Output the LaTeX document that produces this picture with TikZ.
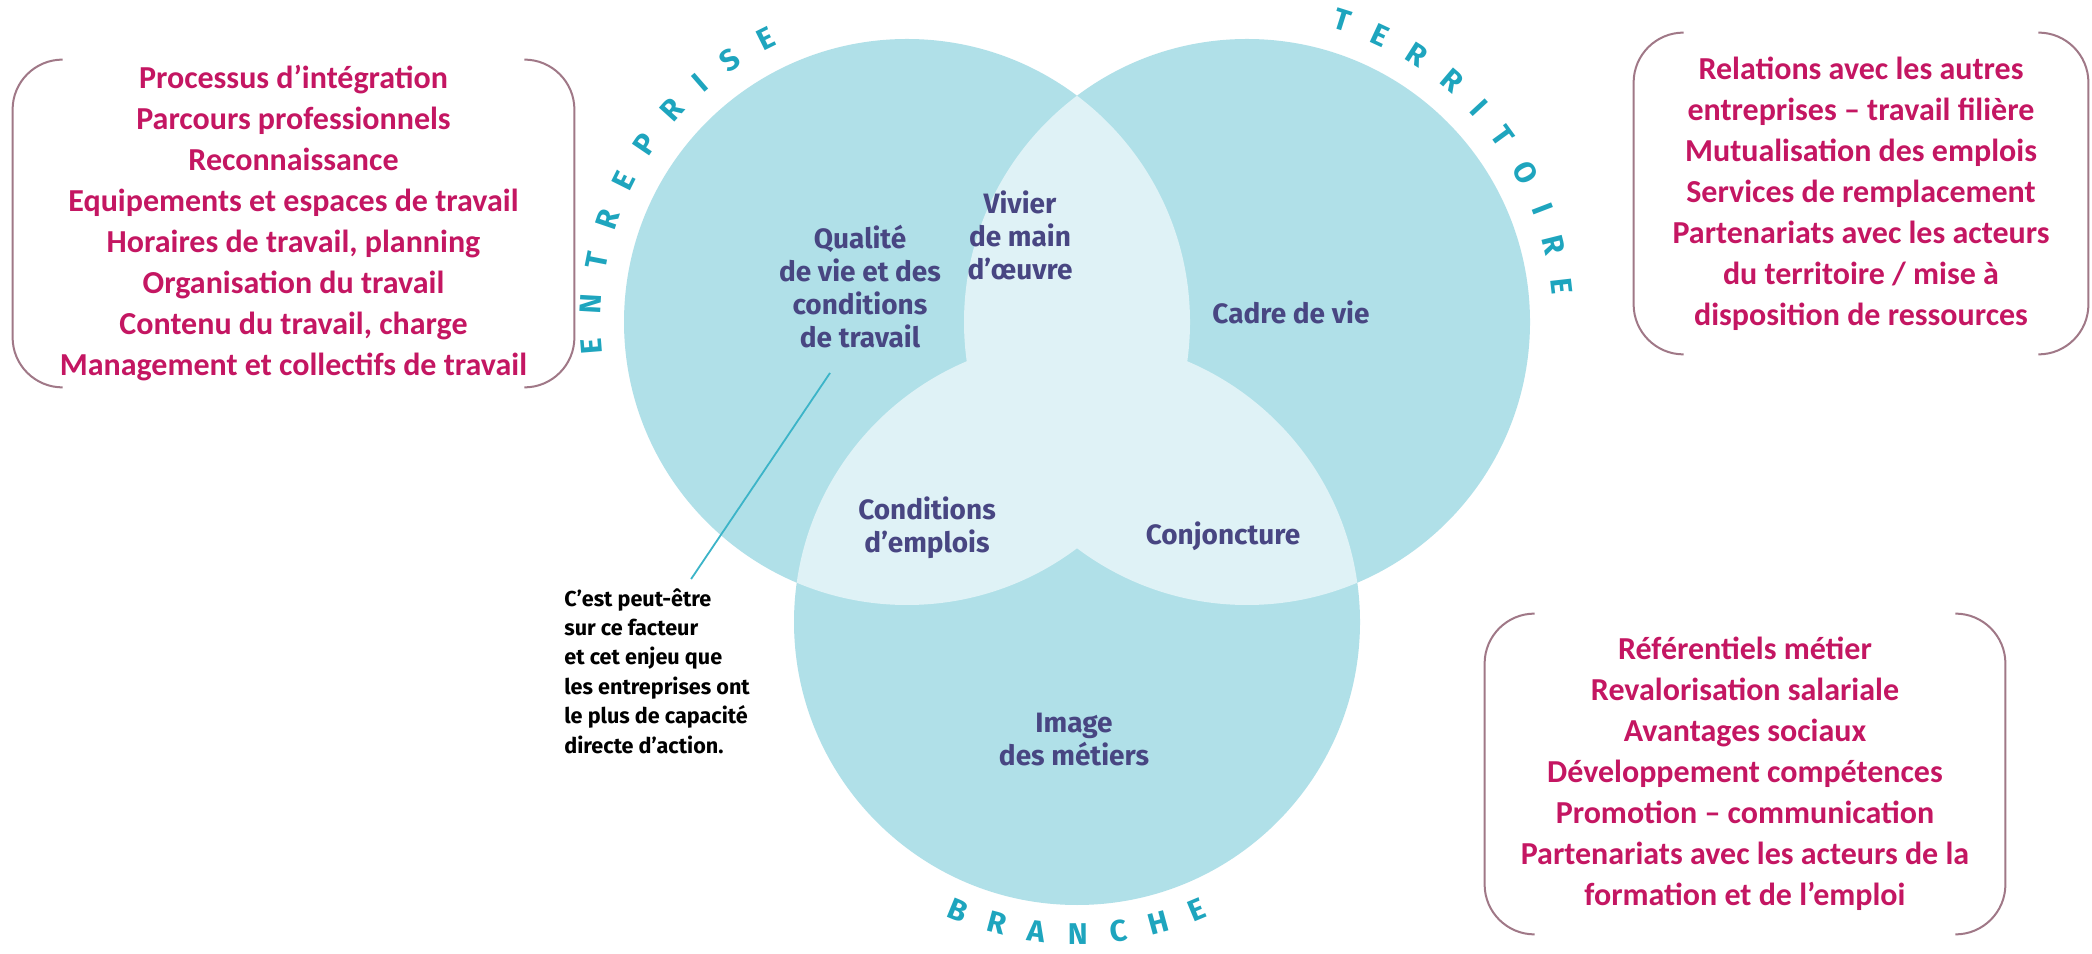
\documentclass[tikz,border=0pt]{standalone}
\usepackage{fontspec}
\usepackage{xcolor}
\usepackage{tikz}
\newfontfamily\boxfont{Carlito}
\newfontfamily\labelfont{Fira Sans}
\definecolor{zoneblue}{RGB}{176, 224, 232}
\definecolor{overlapblue}{RGB}{223, 242, 246}
\definecolor{labelviolet}{RGB}{72, 70, 130}
\definecolor{enjeupink}{RGB}{196, 22, 98}
\definecolor{bracketgray}{RGB}{160, 120, 135}
\definecolor{acteurteal}{RGB}{30, 165, 190}
\definecolor{leadteal}{RGB}{60, 180, 200}
\usetikzlibrary{positioning, decorations.text, calc}

\begin{document}
\begin{tikzpicture}[
    x=0.5pt, y=0.5pt,
    facteur/.style={align=center, text=labelviolet, inner sep=0pt, font=\labelfont\bfseries\fontsize{14}{16.5}\selectfont},
    remarque/.style={align=left, text=black, inner sep=0pt, font=\labelfont\bfseries\fontsize{10.8}{14.7}\selectfont},
    levier/.style={align=center, text=enjeupink, inner sep=0pt, font=\boxfont\bfseries\fontsize{16}{20.5}\selectfont},
    crochet/.style={draw=bracketgray, line width=1pt, rounded corners=25pt},
    renvoi/.style={draw=leadteal, line width=0.9pt},
    acteur/.style={decorate, decoration={text along path, text align={fit to path},
        text={|\color{acteurteal}|#1}}}
]
    \useasboundingbox (0,0) rectangle (2092,953);
    \fill[white] (0,0) rectangle (2092,953);

    % Three circles
    \def\rayon{283}
    \coordinate (entreprise) at (907,631);
    \coordinate (territoire) at (1247,631);
    \coordinate (branche) at (1077,331);
    \fill[zoneblue] (entreprise) circle (\rayon) (territoire) circle (\rayon) (branche) circle (\rayon);

    % Overlaps
    \begin{scope}
        \clip (entreprise) circle (\rayon);
        \fill[overlapblue] (territoire) circle (\rayon) (branche) circle (\rayon);
    \end{scope}
    \begin{scope}
        \clip (territoire) circle (\rayon);
        \fill[overlapblue] (branche) circle (\rayon);
    \end{scope}

    % Curved titles
    \begin{scope}
        \labelfont\bfseries\fontsize{15}{16}\selectfont
        \path[acteur=ENTREPRISE] (entreprise) ++(186:306) arc[start angle=186, end angle=115, radius=306];
        \path[acteur=TERRITOIRE] (territoire) ++(74:306) arc[start angle=74, end angle=5, radius=306];
        \path[acteur=BRANCHE] (branche) ++(-114:322) arc[start angle=-114, end angle=-66, radius=322];
    \end{scope}

    % Factors
    \node[facteur] (qvt) at (860,666) {Qualité\\de vie et des\\conditions\\de travail};
    \node[facteur] (vivier) at (1020,718) {Vivier\\de main\\d’œuvre};
    \node[facteur] (cadre) at (1291,641) {Cadre de vie};
    \node[facteur] (emplois) at (927,425) {Conditions\\d’emplois};
    \node[facteur] (conjoncture) at (1223,417) {Conjoncture};
    \node[facteur] (image) at (1074,213) {Image\\des métiers};

    % Note
    \node[remarque, anchor=west] (note) at (564,282) {C’est peut-être\\sur ce facteur\\et cet enjeu que\\les entreprises ont\\le plus de capacité\\directe d’action.};
    \coordinate (qvt-pointe) at (830,580);
    \draw[renvoi] (qvt-pointe) -- ([shift={(34,9)}]note.north);

    % Levers
    \node[levier, minimum width=280.5pt, minimum height=163.5pt] (boxent) at (293.5,729.5) {Processus d’intégration\\Parcours professionnels\\Reconnaissance\\Equipements et espaces de travail\\Horaires de travail, planning\\Organisation du travail\\Contenu du travail, charge\\Management et collectifs de travail};
    \node[levier, minimum width=227pt, minimum height=160.5pt] (boxter) at (1861,759.5) {Relations avec les autres\\entreprises – travail filière\\Mutualisation des emplois\\Services de remplacement\\Partenariats avec les acteurs\\du territoire / mise à\\disposition de ressources};
    \node[levier, minimum width=260pt, minimum height=160pt] (boxbra) at (1745,179) {Référentiels métier\\Revalorisation salariale\\Avantages sociaux\\Développement compétences\\Promotion – communication\\Partenariats avec les acteurs de la\\formation et de l’emploi};

    % Brackets
    \draw[crochet] ([xshift=25pt]boxent.north west) -- (boxent.north west) -- (boxent.south west) -- ([xshift=25pt]boxent.south west);
    \draw[crochet] ([xshift=-25pt]boxent.north east) -- (boxent.north east) -- (boxent.south east) -- ([xshift=-25pt]boxent.south east);
    \draw[crochet] ([xshift=25pt]boxter.north west) -- (boxter.north west) -- (boxter.south west) -- ([xshift=25pt]boxter.south west);
    \draw[crochet] ([xshift=-25pt]boxter.north east) -- (boxter.north east) -- (boxter.south east) -- ([xshift=-25pt]boxter.south east);
    \draw[crochet] ([xshift=25pt]boxbra.north west) -- (boxbra.north west) -- (boxbra.south west) -- ([xshift=25pt]boxbra.south west);
    \draw[crochet] ([xshift=-25pt]boxbra.north east) -- (boxbra.north east) -- (boxbra.south east) -- ([xshift=-25pt]boxbra.south east);

\end{tikzpicture}
\end{document}
